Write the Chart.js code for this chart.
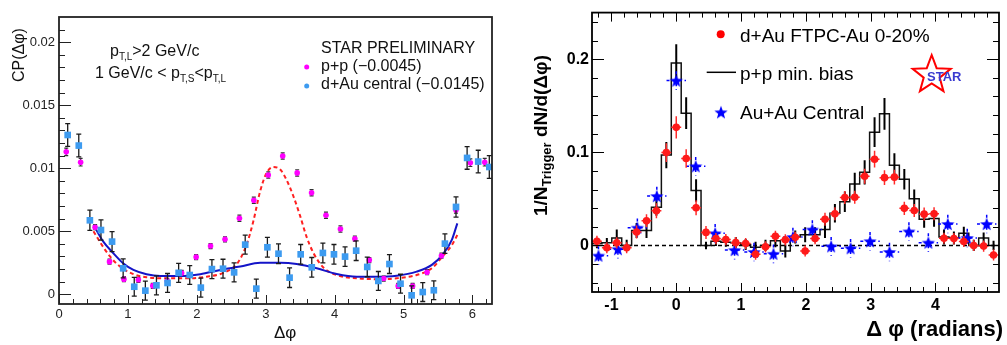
<!DOCTYPE html>
<html>
<head>
<meta charset="utf-8">
<script src="https://cdn.jsdelivr.net/npm/chart.js@4.4.1/dist/chart.umd.min.js"></script>
<style>
  html,body{margin:0;padding:0;background:#fff;}
  body{width:1007px;height:345px;position:relative;overflow:hidden;}
  canvas{position:absolute;top:0;}
  #cpChart{left:0;}
  #corrChart{left:500px;}
</style>
</head>
<body>
<canvas id="cpChart" width="500" height="345"></canvas>
<canvas id="corrChart" width="507" height="345"></canvas>
<script>
// ---------- left panel : CP(dphi) ----------
const xTicksL = [0, 1, 2, 3, 4, 5, 6];
const xLabelsL = ['0', '1', '2', '3', '4', '5', '6'];
const yTicksL = [0, 0.005, 0.01, 0.015, 0.02];
const yLabelsL = ['0', '0.005', '0.01', '0.015', '0.02'];

const ppPhi = [0.105, 0.314, 0.524, 0.733, 0.942, 1.152, 1.361, 1.571, 1.780, 1.990, 2.199, 2.409, 2.618, 2.827, 3.037,
  3.246, 3.456, 3.665, 3.874, 4.084, 4.293, 4.503, 4.712, 4.922, 5.131, 5.341, 5.550, 5.760, 5.969, 6.178];
const ppCP = [0.0113, 0.01048, 0.00532, 0.00259, 0.0012, 0.00115, 0.00067, 0.00106, 0.00169, 0.00295, 0.00383, 0.00436, 0.00603, 0.00746, 0.00947,
  0.01097, 0.00963, 0.00806, 0.00627, 0.00518, 0.00441, 0.00272, 0.00125, 0.00066, 0.00066, 0.00175, 0.00306, 0.00669, 0.01044, 0.01048];
const ppCPErr = [0.0003, 0.0003, 0.0002, 0.0002, 0.0002, 0.0002, 0.0002, 0.0002, 0.0002, 0.0002, 0.0002, 0.0002, 0.00025, 0.00025, 0.00025,
  0.00025, 0.00025, 0.00025, 0.00025, 0.00025, 0.0002, 0.0002, 0.0002, 0.0002, 0.0002, 0.0002, 0.0002, 0.00025, 0.0003, 0.0003];

const dAuPhi = [0.126, 0.287, 0.448, 0.609, 0.770, 0.931, 1.092, 1.253, 1.414, 1.575, 1.736, 1.897, 2.058, 2.219, 2.380, 2.541, 2.702, 2.863, 3.024,
  3.185, 3.346, 3.507, 3.668, 3.829, 3.990, 4.151, 4.312, 4.473, 4.634, 4.795, 4.956, 5.117, 5.278, 5.439, 5.600, 5.761, 5.922, 6.083, 6.244];
const dAuCP = [0.01264, 0.0118, 0.00587, 0.0051, 0.00418, 0.00206, 0.0006, 0.00029, 0.00071, 0.0009, 0.0017, 0.00153, 0.00053, 0.002, 0.00203, 0.00174, 0.00394, 0.00045, 0.00373,
  0.00322, 0.00132, 0.00317, 0.00214, 0.00328, 0.00317, 0.00299, 0.00346, 0.00217, 0.00106, 0.0024, 0.00084, -0.00008, 0.00018, 0.00032, 0.00402, 0.00693, 0.01082, 0.01053, 0.0101];
const dAuCPErr = [0.0009, 0.0009, 0.0008, 0.0008, 0.0008, 0.00075, 0.00075, 0.00075, 0.00075, 0.00075, 0.00075, 0.00075, 0.00075, 0.00075, 0.00075, 0.00075, 0.00075, 0.00075, 0.00078,
  0.00078, 0.00078, 0.00078, 0.00078, 0.00078, 0.00078, 0.00078, 0.00078, 0.00078, 0.00075, 0.00075, 0.00075, 0.00075, 0.00075, 0.00075, 0.00078, 0.0008, 0.0009, 0.0009, 0.0009];

// fit curves
const fitPhiPP = [0.5, 0.6, 0.74, 0.885, 1.08, 1.27, 1.56, 1.85, 2.14, 2.385, 2.58, 2.72, 2.82, 2.92, 3.01, 3.11, 3.21,
  3.30, 3.40, 3.50, 3.59, 3.69, 3.84, 4.03, 4.32, 4.61, 4.90, 5.19, 5.41, 5.58, 5.70, 5.78];
const fitPP = [0.0050, 0.0041, 0.0030, 0.0022, 0.0016, 0.00135, 0.00127, 0.00127, 0.0014, 0.0017, 0.0024, 0.0039, 0.0058, 0.0082, 0.0096, 0.0101, 0.0099,
  0.0091, 0.0078, 0.0062, 0.0046, 0.0033, 0.0021, 0.00153, 0.00127, 0.0012, 0.00127, 0.00153, 0.00206, 0.0031, 0.0039, 0.0047];
const fitPhiDAu = [0.5, 0.64, 0.79, 0.93, 1.08, 1.27, 1.47, 1.76, 2.05, 2.34, 2.63, 2.92, 3.21, 3.45, 3.74, 4.03, 4.32, 4.61, 4.90, 5.19, 5.41, 5.58, 5.70, 5.78];
const fitDAu = [0.0055, 0.0042, 0.00325, 0.00246, 0.00193, 0.00159, 0.00145, 0.00145, 0.00159, 0.00193, 0.0022, 0.0025, 0.0025, 0.0024, 0.00206, 0.00161, 0.0014, 0.0014, 0.00148, 0.0018, 0.00233, 0.00325, 0.00431, 0.00563];

// ---------- right panel : 1/N dN/d(dphi) ----------
const xTicksR = [-1, 0, 1, 2, 3, 4];
const xLabelsR = ['-1', '0', '1', '2', '3', '4'];
const yTicksR = [0, 0.1, 0.2];
const yLabelsR = ['0', '0.1', '0.2'];

const binPhi = [-1.224, -1.071, -0.918, -0.765, -0.612, -0.459, -0.306, -0.153, 0, 0.153, 0.306, 0.459, 0.612, 0.765,
  0.918, 1.071, 1.224, 1.377, 1.530, 1.683, 1.836, 1.989, 2.142, 2.295, 2.448, 2.601, 2.754, 2.907, 3.060, 3.213,
  3.366, 3.519, 3.672, 3.825, 3.978, 4.131, 4.284, 4.437, 4.590, 4.743, 4.896];
const binHalf = 0.0765;
const ppHist = [0.002, 0.003, 0.008, 0.0, 0.016, 0.016, 0.041, 0.097, 0.196, 0.142, 0.059, 0.0, 0.0045, 0.0035,
  0.003, 0.001, -0.002, 0.0, 0.005, -0.006, 0.009, 0.0115, 0.0115, 0.017, 0.0345, 0.047, 0.066, 0.0785, 0.1216, 0.1413,
  0.086, 0.071, 0.05, 0.028, 0.029, 0.009, 0.008, 0.013, 0.0, 0.008, 0.0];
const ppHistErr = [0.005, 0.005, 0.009, 0.006, 0.008, 0.008, 0.009, 0.014, 0.02, 0.017, 0.012, 0.004, 0.005, 0.005,
  0.006, 0.006, 0.006, 0.006, 0.007, 0.007, 0.007, 0.008, 0.008, 0.009, 0.01, 0.011, 0.012, 0.013, 0.016, 0.017,
  0.013, 0.011, 0.01, 0.009, 0.009, 0.008, 0.007, 0.007, 0.006, 0.006, 0.005];
const dAuYield = [0.0045, -0.0025, 0.0028, -0.0025, 0.0144, 0.0264, 0.0373, 0.0997, 0.1268, 0.0933, 0.0405, 0.014, 0.0074, 0.0063,
  0.003, 0.002, -0.0095, -0.0015, 0.0098, 0.006, 0.0088, -0.006, 0.0074, 0.0281, 0.034, 0.0514, 0.0518, 0.0743, 0.0926, 0.0728,
  0.0733, 0.0398, 0.0375, 0.0336, 0.034, 0.0077, 0.0074, 0.0042, 0.0, -0.0007, -0.0103];
const dAuYieldErr = [0.006, 0.006, 0.006, 0.006, 0.007, 0.007, 0.008, 0.01, 0.012, 0.01, 0.008, 0.007, 0.006, 0.006,
  0.006, 0.006, 0.006, 0.006, 0.006, 0.006, 0.006, 0.006, 0.006, 0.007, 0.007, 0.007, 0.007, 0.008, 0.009, 0.008,
  0.008, 0.007, 0.007, 0.007, 0.007, 0.006, 0.006, 0.006, 0.006, 0.006, 0.006];
const auPhi = [-1.2, -0.9, -0.6, -0.3, 0, 0.3, 0.6, 0.9, 1.2, 1.5, 1.8, 2.1, 2.39, 2.69, 2.99, 3.29, 3.59, 3.89, 4.19, 4.49, 4.79];
const auYield = [-0.011, -0.004, 0.019, 0.053, 0.177, 0.085, 0.013, -0.005, -0.007, -0.009, 0.009, 0.017, -0.001, -0.003, 0.0045, -0.007, 0.015, 0.003, 0.023, 0.008, 0.023];
const auYieldErr = 0.01;
const auHalf = 0.15;

const X_MIN_R = -1.3, X_MAX_R = 4.98;
const FONT = '"Liberation Sans", Arial, Helvetica, sans-serif';
Chart.defaults.font.family = FONT;

const pts = (xs, ys) => xs.map((x, i) => ({ x, y: ys[i] }));

function starCanvas(r, color) {
  const c = document.createElement('canvas');
  const s = Math.ceil(r * 2 + 2);
  c.width = c.height = s;
  const g = c.getContext('2d');
  g.fillStyle = color;
  g.beginPath();
  for (let i = 0; i < 10; i++) {
    const ang = -Math.PI / 2 + i * Math.PI / 5;
    const rr = i % 2 ? r * 0.42 : r;
    g.lineTo(s / 2 + rr * Math.cos(ang), s / 2 + rr * Math.sin(ang) + r * 0.08);
  }
  g.closePath();
  g.fill();
  return c;
}
const blueStar = starCanvas(7, '#0000ff');

function richText(ctx, x, y, parts) {
  for (const p of parts) {
    ctx.font = `${p.bold ? 'bold ' : ''}${p.size}px ${FONT}`;
    ctx.fillText(p.t, x, y + (p.dy || 0));
    x += ctx.measureText(p.t).width;
  }
  return x;
}
function richWidth(ctx, parts) {
  let w = 0;
  for (const p of parts) { ctx.font = `${p.bold ? 'bold ' : ''}${p.size}px ${FONT}`; w += ctx.measureText(p.t).width; }
  return w;
}

// error bars drawn under each dataset's markers
const errorBars = {
  id: 'errorBars',
  beforeDatasetDraw(chart, args) {
    const ds = chart.data.datasets[args.index];
    if (!ds.errY && !ds.errX) return;
    const { ctx, chartArea: a, scales: { x, y } } = chart;
    const st = ds.errStyle || {};
    ctx.save();
    ctx.beginPath(); ctx.rect(a.left, a.top, a.right - a.left, a.bottom - a.top); ctx.clip();
    ctx.strokeStyle = st.color || '#000';
    ctx.lineWidth = st.width || 1;
    ctx.setLineDash(st.dash || []);
    ds.data.forEach((p, i) => {
      const px = x.getPixelForValue(p.x), py = y.getPixelForValue(p.y);
      ctx.beginPath();
      if (ds.errY) {
        const e = Array.isArray(ds.errY) ? ds.errY[i] : ds.errY;
        const y1 = y.getPixelForValue(p.y + e), y2 = y.getPixelForValue(p.y - e);
        ctx.moveTo(px, y1); ctx.lineTo(px, y2);
        if (st.cap) {
          ctx.moveTo(px - st.cap, y1); ctx.lineTo(px + st.cap, y1);
          ctx.moveTo(px - st.cap, y2); ctx.lineTo(px + st.cap, y2);
        }
      }
      if (ds.errX) {
        const e = Array.isArray(ds.errX) ? ds.errX[i] : ds.errX;
        ctx.moveTo(x.getPixelForValue(p.x - e), py); ctx.lineTo(x.getPixelForValue(p.x + e), py);
      }
      ctx.stroke();
    });
    ctx.restore();
  }
};
Chart.register(errorBars);

// ROOT style frame with inward ticks
function framePlugin(o) {
  return {
    id: 'frame',
    afterDatasetsDraw(chart) {
      const { ctx, chartArea: a, scales: { x, y } } = chart;
      ctx.save();
      ctx.strokeStyle = o.color;
      ctx.lineWidth = 1;
      ctx.beginPath();
      const tickX = (v, len) => {
        const px = Math.round(x.getPixelForValue(v)) + 0.5;
        ctx.moveTo(px, a.bottom); ctx.lineTo(px, a.bottom - len);
        if (o.mirror) { ctx.moveTo(px, a.top); ctx.lineTo(px, a.top + len); }
      };
      const tickY = (v, len) => {
        const py = Math.round(y.getPixelForValue(v)) + 0.5;
        ctx.moveTo(a.left, py); ctx.lineTo(a.left + len, py);
        if (o.mirror) { ctx.moveTo(a.right, py); ctx.lineTo(a.right - len, py); }
      };
      for (let i = 0; ; i++) { const v = o.xMinor[0] + i * o.xMinor[1]; if (v > o.xMinor[2] + 1e-9) break; tickX(v, o.xLen[1]); }
      for (let i = 0; ; i++) { const v = o.yMinor[0] + i * o.yMinor[1]; if (v > o.yMinor[2] + 1e-12) break; tickY(v, o.yLen[1]); }
      x.ticks.forEach(t => tickX(t.value, o.xLen[0]));
      y.ticks.forEach(t => tickY(t.value, o.yLen[0]));
      ctx.stroke();
      ctx.lineWidth = o.border;
      ctx.strokeRect(a.left, a.top, a.right - a.left, a.bottom - a.top);
      ctx.restore();
    }
  };
}

const leftNotes = {
  id: 'leftNotes',
  afterDraw(chart) {
    const ctx = chart.ctx;
    ctx.save();
    ctx.fillStyle = '#111';
    ctx.textBaseline = 'alphabetic';
    ctx.save();
    ctx.translate(24, 82); ctx.rotate(-Math.PI / 2);
    richText(ctx, 0, 0, [{ t: 'CP(Δφ)', size: 16 }]);
    ctx.restore();
    richText(ctx, 274, 338, [{ t: 'Δφ', size: 17 }]);
    richText(ctx, 110, 56, [{ t: 'p', size: 16 }, { t: 'T,L', size: 10, dy: 4 }, { t: '>2 GeV/c', size: 16 }]);
    richText(ctx, 95, 78, [{ t: '1 GeV/c < p', size: 16 }, { t: 'T,S', size: 10, dy: 4 }, { t: '<p', size: 16 }, { t: 'T,L', size: 10, dy: 4 }]);
    richText(ctx, 321, 52.5, [{ t: 'STAR PRELIMINARY', size: 16 }]);
    richText(ctx, 321, 71, [{ t: 'p+p (\u22120.0045)', size: 16 }]);
    richText(ctx, 321, 88.5, [{ t: 'd+Au central (\u22120.0145)', size: 16 }]);
    ctx.fillStyle = '#ff00ff';
    ctx.beginPath(); ctx.arc(306.7, 67, 2.5, 0, Math.PI * 2); ctx.fill();
    ctx.fillStyle = '#3d9bf0';
    ctx.beginPath(); ctx.arc(306.7, 86, 2.5, 0, Math.PI * 2); ctx.fill();
    ctx.restore();
  }
};

new Chart(document.getElementById('cpChart'), {
  type: 'line',
  data: {
    datasets: [
      { label: 'd+Au central', data: pts(dAuPhi, dAuCP), showLine: false, pointStyle: 'rect', pointRadius: 4.7,
        pointBackgroundColor: '#3d9bf0', pointBorderWidth: 0, errY: dAuCPErr, errStyle: { color: '#1a1a1a', width: 1.3, cap: 2.5 } },
      { label: 'p+p', data: pts(ppPhi, ppCP), showLine: false, pointStyle: 'circle', pointRadius: 2.8,
        pointBackgroundColor: '#ff00ff', pointBorderWidth: 0, errY: ppCPErr, errStyle: { color: '#333', width: 1.2, cap: 2 } },
      { label: 'd+Au fit', data: pts(fitPhiDAu, fitDAu), borderColor: '#1414c8', borderWidth: 2, pointRadius: 0,
        cubicInterpolationMode: 'monotone' },
      { label: 'p+p fit', data: pts(fitPhiPP, fitPP), borderColor: '#ff2020', borderWidth: 2, borderDash: [4, 3], pointRadius: 0,
        cubicInterpolationMode: 'monotone' }
    ]
  },
  options: {
    responsive: false, animation: false, events: [],
    layout: { padding: { top: 17, right: 8, left: 0, bottom: 0 } },
    plugins: { legend: { display: false }, tooltip: { enabled: false } },
    scales: {
      x: {
        type: 'linear', min: 0, max: 6.2832,
        afterBuildTicks: s => { s.ticks = xTicksL.map(v => ({ value: v })); },
        afterFit: s => { s.height = 41; },
        ticks: { autoSkip: false, maxRotation: 0, padding: 3, color: '#222', font: { size: 13 }, callback: (v, i) => xLabelsL[i] },
        grid: { display: false, drawTicks: false }, border: { display: false }
      },
      y: {
        min: -0.00077, max: 0.022,
        afterBuildTicks: s => { s.ticks = yTicksL.map(v => ({ value: v })); },
        afterFit: s => { s.width = 59; },
        ticks: { autoSkip: false, padding: 4, color: '#222', font: { size: 13 }, callback: (v, i) => yLabelsL[i] },
        grid: { display: false, drawTicks: false }, border: { display: false }
      }
    }
  },
  plugins: [framePlugin({ color: '#222', border: 1.8, mirror: false, xMinor: [0, 0.2, 6.2], yMinor: [0, 0.001, 0.021], xLen: [9, 5], yLen: [12, 6] }), leftNotes]
});

const rightNotes = {
  id: 'rightNotes',
  beforeDatasetsDraw(chart) {
    const { ctx, chartArea: a, scales: { y } } = chart;
    const py = y.getPixelForValue(0);
    ctx.save();
    ctx.strokeStyle = '#000'; ctx.lineWidth = 1.5; ctx.setLineDash([4, 3]);
    ctx.beginPath(); ctx.moveTo(a.left, py); ctx.lineTo(a.right, py); ctx.stroke();
    ctx.restore();
  },
  afterDraw(chart) {
    const ctx = chart.ctx;
    ctx.save();
    ctx.fillStyle = '#000';
    ctx.textBaseline = 'alphabetic';
    // y title with subscript
    const yParts = [{ t: '1/N', size: 19, bold: true }, { t: 'Trigger', size: 13, bold: true, dy: 4 }, { t: ' dN/d(Δφ)', size: 19, bold: true }];
    const w = richWidth(ctx, yParts);
    ctx.save();
    ctx.translate(47, 135.5); ctx.rotate(-Math.PI / 2);
    richText(ctx, -w / 2, 0, yParts);
    ctx.restore();
    // x title
    const xParts = [{ t: 'Δ φ (radians)', size: 22, bold: true }];
    richText(ctx, 503 - richWidth(ctx, xParts), 336, xParts);
    // legend
    richText(ctx, 240, 41.5, [{ t: 'd+Au FTPC-Au 0-20%', size: 19 }]);
    richText(ctx, 240, 80, [{ t: 'p+p min. bias', size: 19 }]);
    richText(ctx, 240, 118.5, [{ t: 'Au+Au Central', size: 19 }]);
    ctx.fillStyle = '#ff0000';
    ctx.beginPath(); ctx.arc(220.7, 34.3, 4, 0, Math.PI * 2); ctx.fill();
    ctx.strokeStyle = '#000'; ctx.lineWidth = 1.5;
    ctx.beginPath(); ctx.moveTo(206.7, 72.3); ctx.lineTo(236, 72.3); ctx.stroke();
    ctx.drawImage(blueStar, 221 - blueStar.width / 2, 112.3 - blueStar.height / 2);
    // STAR logo
    const cx = 431.7, cy = 75, R = 20;
    ctx.strokeStyle = '#ff0000'; ctx.lineWidth = 2;
    ctx.beginPath();
    for (let i = 0; i < 10; i++) {
      const ang = -Math.PI / 2 + i * Math.PI / 5;
      const rr = i % 2 ? R * 0.42 : R;
      ctx.lineTo(cx + rr * Math.cos(ang), cy + rr * Math.sin(ang));
    }
    ctx.closePath(); ctx.stroke();
    ctx.fillStyle = '#3a3ad0';
    richText(ctx, 427, 80.5, [{ t: 'STAR', size: 13, bold: true }]);
    ctx.restore();
  }
};

new Chart(document.getElementById('corrChart'), {
  type: 'line',
  data: {
    datasets: [
      { label: 'd+Au FTPC-Au 0-20%', data: pts(binPhi, dAuYield), showLine: false, pointStyle: 'circle', pointRadius: 3.8,
        pointBackgroundColor: '#ff1a1a', pointBorderWidth: 0, errY: dAuYieldErr, errX: binHalf, errStyle: { color: '#ff2a2a', width: 1.5 } },
      { label: 'Au+Au Central', data: pts(auPhi, auYield), showLine: false, pointStyle: blueStar, pointRadius: 7,
        errY: auYieldErr, errX: auHalf, errStyle: { color: '#0000ff', width: 1.5, dash: [3, 3] } },
      { label: 'p+p errors', data: pts(binPhi, ppHist), showLine: false, pointRadius: 0, errY: ppHistErr,
        errStyle: { color: '#000', width: 2 } },
      { label: 'p+p min. bias', data: [{ x: X_MIN_R, y: ppHist[0] }, ...pts(binPhi, ppHist), { x: X_MAX_R, y: ppHist[ppHist.length - 1] }],
        stepped: 'middle', borderColor: '#111', borderWidth: 1.5, pointRadius: 0 }
    ]
  },
  options: {
    responsive: false, animation: false, events: [],
    layout: { padding: { top: 8, right: 1.3, left: 0, bottom: 0 } },
    plugins: { legend: { display: false }, tooltip: { enabled: false } },
    scales: {
      x: {
        type: 'linear', min: X_MIN_R, max: X_MAX_R,
        afterBuildTicks: s => { s.ticks = xTicksR.map(v => ({ value: v })); },
        afterFit: s => { s.height = 53; },
        ticks: { autoSkip: false, maxRotation: 0, padding: 4, color: '#000', font: { size: 16, weight: 'bold' }, callback: (v, i) => xLabelsR[i] },
        grid: { display: false, drawTicks: false }, border: { display: false }
      },
      y: {
        min: -0.05, max: 0.25,
        afterBuildTicks: s => { s.ticks = yTicksR.map(v => ({ value: v })); },
        afterFit: s => { s.width = 92; },
        ticks: { autoSkip: false, padding: 3, color: '#000', font: { size: 16, weight: 'bold' }, callback: (v, i) => yLabelsR[i] },
        grid: { display: false, drawTicks: false }, border: { display: false }
      }
    }
  },
  plugins: [framePlugin({ color: '#000', border: 1.8, mirror: true, xMinor: [-1.2, 0.2, 4.8], yMinor: [-0.04, 0.02, 0.24], xLen: [9, 5], yLen: [12, 6] }), rightNotes]
});
</script>
</body>
</html>
